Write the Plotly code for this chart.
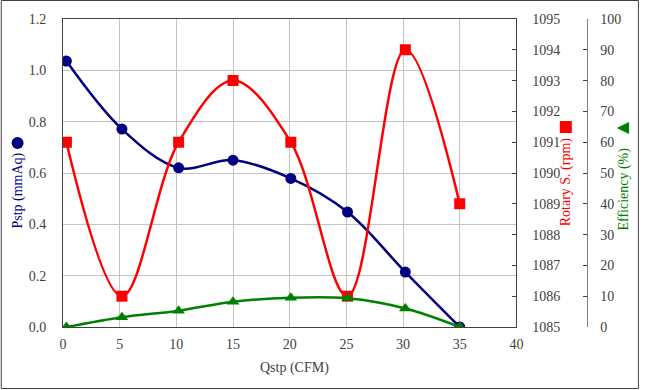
import plotly.graph_objects as go

# ---- data ----
qstp = [0.3, 5.2, 10.2, 15.0, 20.1, 25.1, 30.2, 35.0]
pstp = [1.036, 0.771, 0.620, 0.650, 0.579, 0.448, 0.214, 0.0]
rotary = [1091, 1086, 1091, 1093, 1091, 1086, 1094, 1089]
efficiency = [0.0, 3.2, 5.3, 8.2, 9.5, 9.3, 6.0, 0.0]

x_ticks = [0, 5, 10, 15, 20, 25, 30, 35, 40]

NAVY = "#000080"
RED = "#FF0000"
GREEN = "#008000"
AX = "#404040"
GRID = "#c4c4c4"
FONT = "Liberation Serif, Times New Roman, serif"

fig = go.Figure()
fig.add_trace(go.Scatter(x=qstp, y=pstp, mode="lines+markers", name="Pstp",
                         line=dict(color=NAVY, width=2.5, shape="spline", smoothing=1),
                         marker=dict(symbol="circle", size=11, color=NAVY),
                         yaxis="y"))
fig.add_trace(go.Scatter(x=qstp, y=rotary, mode="lines+markers", name="Rotary S.",
                         line=dict(color=RED, width=2.5, shape="spline", smoothing=1),
                         marker=dict(symbol="square", size=11, color=RED),
                         yaxis="y2"))
fig.add_trace(go.Scatter(x=qstp, y=efficiency, mode="lines+markers", name="Efficiency",
                         line=dict(color=GREEN, width=2.5, shape="spline", smoothing=1),
                         marker=dict(symbol="triangle-up", size=11, color=GREEN),
                         yaxis="y3"))

L, R, T, B = 63, 10, 19, 63
W, H = 647, 390
pw = W - L - R
ph = H - T - B

def px(x):
    return (x - L) / pw

def py(y):
    return (H - B - y) / ph

xdom_end = px(522)

fig.update_layout(
    width=W, height=H,
    margin=dict(l=L, r=R, t=T, b=B),
    paper_bgcolor="white", plot_bgcolor="white",
    showlegend=False,
    font=dict(family=FONT, size=14, color=AX),
    xaxis=dict(domain=[0, xdom_end], range=[0, 40], tickvals=x_ticks,
               showgrid=True, gridcolor=GRID, gridwidth=1,
               showline=True, linecolor=AX, linewidth=1, mirror=True,
               ticks="", zeroline=False, ticklabelstandoff=4,
               tickfont=dict(family=FONT, size=14, color=AX)),
    yaxis=dict(range=[0, 1.2], dtick=0.2, tickformat=".1f",
               showgrid=True, gridcolor=GRID, gridwidth=1,
               showline=True, linecolor=AX, linewidth=1, mirror=True,
               ticks="", zeroline=False, ticklabelstandoff=13,
               tickfont=dict(family=FONT, size=14, color=AX)),
    yaxis2=dict(range=[1085, 1095], dtick=1, overlaying="y", side="right", anchor="x",
                showgrid=False, showline=True, linecolor=AX, linewidth=1,
                ticks="inside", ticklen=4, tickcolor=AX, zeroline=False,
                ticklabelstandoff=12,
                tickfont=dict(family=FONT, size=14, color=AX)),
    yaxis3=dict(range=[0, 100], dtick=10, overlaying="y", side="right", anchor="free",
                position=px(593),
                showgrid=False, showline=True, linecolor="#808080", linewidth=1,
                ticks="inside", ticklen=4, tickcolor=AX, zeroline=False,
                ticklabelstandoff=10,
                tickfont=dict(family=FONT, size=14, color=AX)),
)

annos = [
    dict(text="Pstp (mmAq)", x=px(17), y=py(191), textangle=-90, color=NAVY),
    dict(text="Rotary S. (rpm)", x=px(572), y=py(181.5), textangle=-90, color=RED),
    dict(text="Efficiency (%)", x=px(630), y=py(189.5), textangle=-90, color=GREEN),
    dict(text="Qstp (CFM)", x=px(297), y=py(368), textangle=0, color=AX),
]
for a in annos:
    fig.add_annotation(text=a["text"], x=a["x"], y=a["y"], xref="paper", yref="paper",
                       xanchor="center", yanchor="middle", showarrow=False,
                       textangle=a["textangle"],
                       font=dict(family=FONT, size=14, color=a["color"]))

# legend-key symbols next to axis titles (rotated with the titles)
fig.add_shape(type="circle", xref="paper", yref="paper", xsizemode="pixel", ysizemode="pixel",
              xanchor=px(17), yanchor=py(143), x0=-6, x1=6, y0=-6, y1=6,
              fillcolor=NAVY, line=dict(width=0))
fig.add_shape(type="rect", xref="paper", yref="paper", xsizemode="pixel", ysizemode="pixel",
              xanchor=px(572), yanchor=py(127), x0=-6, x1=6, y0=-6, y1=6,
              fillcolor=RED, line=dict(width=0))
fig.add_shape(type="path", xref="paper", yref="paper", xsizemode="pixel", ysizemode="pixel",
              xanchor=px(630), yanchor=py(128), path="M -6.5,0 L 6,6 L 6,-6 Z",
              fillcolor=GREEN, line=dict(width=0))

# outer chart border
fig.add_shape(type="rect", xref="paper", yref="paper",
              x0=px(0.5), x1=px(645.5), y0=py(388.5), y1=py(0.5),
              line=dict(color=AX, width=1), fillcolor="rgba(0,0,0,0)", layer="below")

fig.write_html("out.html", config={"displayModeBar": False},
               post_script="document.body.style.margin='0';document.body.style.overflow='hidden';")
